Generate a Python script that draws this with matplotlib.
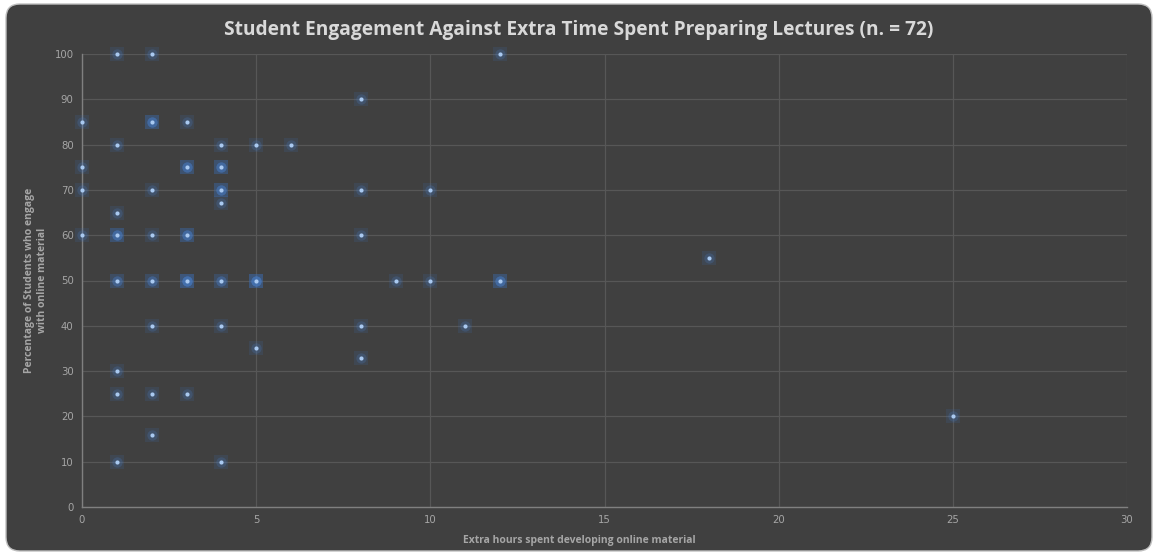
import matplotlib
matplotlib.use("Agg")
import matplotlib.pyplot as plt
from matplotlib.patches import FancyBboxPatch
import numpy as np

# Data: (hours, percentage, count of overlapping responses)
hours = [0, 0, 0, 0,
         1, 1, 1, 1, 1, 1, 1, 1,
         2, 2, 2, 2, 2, 2, 2, 2,
         3, 3, 3, 3, 3,
         4, 4, 4, 4, 4, 4, 4,
         5, 5, 5,
         6,
         8, 8, 8, 8, 8,
         9,
         10, 10,
         11,
         12, 12,
         18,
         25]
engagement = [85, 75, 70, 60,
              100, 80, 65, 60, 50, 30, 25, 10,
              100, 85, 70, 60, 50, 40, 25, 16,
              85, 75, 60, 50, 25,
              80, 75, 70, 67, 50, 40, 10,
              80, 50, 35,
              80,
              90, 70, 60, 40, 33,
              50,
              70, 50,
              40,
              100, 50,
              55,
              20]
counts = [1, 1, 1, 1,
          1, 1, 1, 3, 2, 1, 1, 1,
          1, 3, 1, 1, 2, 1, 1, 1,
          1, 3, 3, 4, 1,
          1, 3, 3, 1, 2, 1, 1,
          1, 4, 1,
          1,
          1, 1, 1, 1, 1,
          1,
          1, 1,
          1,
          1, 3,
          1,
          1]

title = "Student Engagement Against Extra Time Spent Preparing Lectures (n. = 72)"
xlabel = "Extra hours spent developing online material"
ylabel = "Percentage of Students who engage\nwith online material"
xticks = [0, 5, 10, 15, 20, 25, 30]
yticks = [0, 10, 20, 30, 40, 50, 60, 70, 80, 90, 100]

W, H = 1158, 555
fig = plt.figure(figsize=(W / 100, H / 100), dpi=100)
fig.patch.set_facecolor("white")
bg = "#404040"
box = FancyBboxPatch((6 / W, 4 / H), (W - 12) / W, (H - 8) / H,
                     boxstyle="round,pad=0,rounding_size=0.012",
                     transform=fig.transFigure, facecolor=bg,
                     edgecolor="#bfbfbf", linewidth=1.0, zorder=-5,
                     mutation_aspect=W / H)
fig.add_artist(box)

ax = fig.add_axes([82 / W, (H - 507) / H, (1127 - 82) / W, (507 - 54) / H])
ax.set_zorder(2)
ax.set_facecolor(bg)
ax.set_xlim(0, 30)
ax.set_ylim(0, 100)
ax.set_xticks(xticks)
ax.set_yticks(yticks)
ax.grid(True, color="#575757", linewidth=0.9)
ax.set_axisbelow(True)
for s in ["top", "right"]:
    ax.spines[s].set_visible(False)
for s in ["left", "bottom"]:
    ax.spines[s].set_color("#808080")
    ax.spines[s].set_linewidth(1.0)
ax.tick_params(length=0, colors="#a6a6a6", labelsize=7.3, pad=6)

# Expand to individual responses so overlapping points stack their glow
xs = np.repeat(hours, counts)
ys = np.repeat(engagement, counts)
ax.scatter(xs, ys, marker="s", s=95, color="#3d6fb6", alpha=0.16,
           linewidths=0, zorder=3, clip_on=False)
ax.scatter(xs, ys, marker="o", s=55, color="#4a80cc", alpha=0.22,
           linewidths=0, zorder=3, clip_on=False)
ax.scatter(hours, engagement, marker="o", s=9, color="#a9c9f0",
           linewidths=0, zorder=4, clip_on=False)

fig.text(0.5, 1 - 30 / H, title, ha="center", va="center",
         fontsize=13.8, fontweight="bold", color="#d9d9d9", family="Open Sans")
fig.text(0.5, 1 - 540 / H, xlabel, ha="center", va="center",
         fontsize=7.5, fontweight="bold", color="#a6a6a6", family="Open Sans")
fig.text(36 / W, 1 - 280 / H, ylabel, ha="center", va="center", rotation=90,
         fontsize=7.5, fontweight="bold", color="#a6a6a6", family="Open Sans",
         multialignment="center", linespacing=1.15)

fig.savefig("out.png", dpi=100, facecolor=fig.get_facecolor())
